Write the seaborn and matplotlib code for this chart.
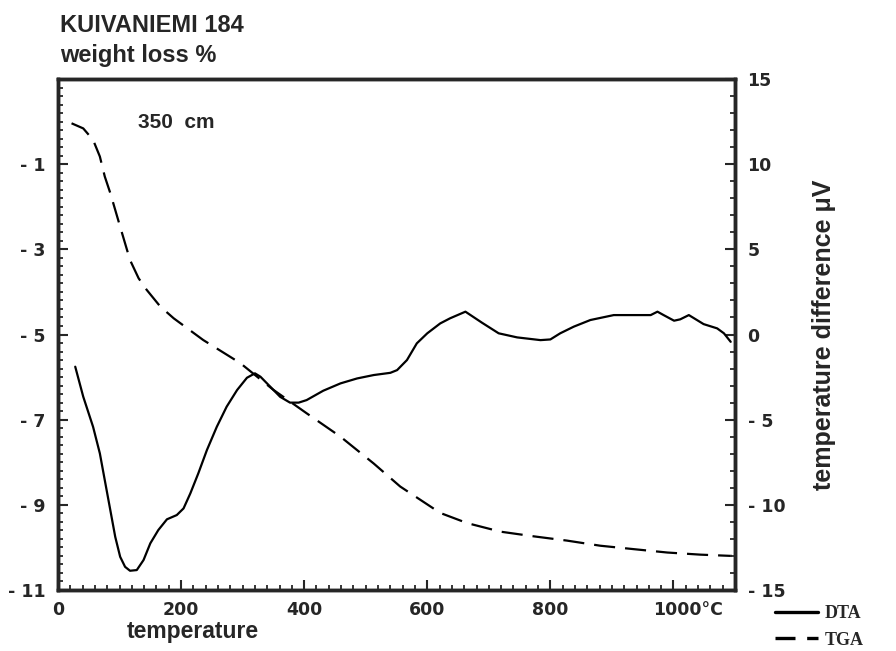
import numpy as np
import pandas as pd
import matplotlib
matplotlib.use("Agg")
import matplotlib.pyplot as plt
import matplotlib.ticker as mticker
from matplotlib.lines import Line2D
from matplotlib.transforms import ScaledTranslation
import seaborn as sns

# TGA curve, weight loss % (left axis)
tga_temp = [22, 41, 57, 68, 76, 85, 101, 117, 131, 144, 166, 188, 236, 296,
            350, 404, 459, 513, 556, 621, 665, 719, 773, 827, 881, 935, 990,
            1044, 1095]
tga_loss = [-0.04, -0.16, -0.43, -0.82, -1.29, -1.68, -2.47, -3.25, -3.68,
            -3.95, -4.34, -4.62, -5.13, -5.67, -6.30, -6.85, -7.40, -8.03,
            -8.57, -9.19, -9.43, -9.63, -9.74, -9.84, -9.96, -10.04, -10.12,
            -10.17, -10.20]

# DTA curve, temperature difference uV (right axis)
dta_temp = [28, 41, 57, 68, 76, 85, 93, 101, 109, 117, 128, 139, 150, 163,
            177, 193, 204, 215, 228, 242, 258, 274, 291, 307, 320, 329, 345,
            361, 377, 391, 404, 431, 459, 486, 513, 540, 551, 567, 583, 600,
            621, 637, 662, 689, 716, 746, 784, 800, 816, 838, 865, 903, 963,
            974, 984, 1001, 1011, 1025, 1049, 1071, 1082, 1093]
dta_diff = [-1.89, -3.65, -5.42, -6.98, -8.55, -10.31, -11.88, -13.05, -13.64,
            -13.87, -13.83, -13.24, -12.26, -11.48, -10.85, -10.60, -10.21,
            -9.33, -8.15, -6.78, -5.42, -4.24, -3.26, -2.54, -2.28, -2.48,
            -3.07, -3.66, -4.00, -4.00, -3.85, -3.30, -2.87, -2.58, -2.38,
            -2.25, -2.09, -1.50, -0.52, 0.07, 0.65, 0.95, 1.34, 0.69, 0.07,
            -0.17, -0.33, -0.29, 0.07, 0.46, 0.85, 1.14, 1.14, 1.34, 1.14,
            0.81, 0.89, 1.14, 0.61, 0.36, 0.07, -0.43]

x_ticks = [0, 200, 400, 600, 800, 1000]
x_labels = ["0", "200", "400", "600", "800", "1000°C"]
left_ticks = [-11, -9, -7, -5, -3, -1]
right_ticks = [-15, -10, -5, 0, 5, 10, 15]

tga = pd.DataFrame({"temperature": tga_temp, "loss": tga_loss})
dta = pd.DataFrame({"temperature": dta_temp, "diff": dta_diff})

sns.set_style("ticks")
plt.rcParams["font.family"] = ["Liberation Sans", "DejaVu Sans"]
plt.rcParams["axes.unicode_minus"] = False

fig = plt.figure(figsize=(8.96, 6.51), dpi=100)
ax = fig.add_axes([58 / 896, 1 - 590 / 651, 677 / 896, 511 / 651])
ax2 = ax.twinx()

sns.lineplot(data=tga, x="temperature", y="loss", ax=ax, color="black",
             lw=1.6, linestyle=(0, (9.5, 4.5)), legend=False)
sns.lineplot(data=dta, x="temperature", y="diff", ax=ax2, color="black",
             lw=1.6, legend=False)

ax.set_xlim(0, 1100)
ax.set_ylim(-11, 1)
ax2.set_ylim(-15, 15)

for s in list(ax.spines.values()) + list(ax2.spines.values()):
    s.set_linewidth(2.5)


def spaced(v):
    # plotter style labels: "- 15"
    return f"- {abs(v)}" if v < 0 else str(v)


tick_font = {"family": "DejaVu Sans", "weight": "bold", "size": 12.5}

# x axis
ax.xaxis.set_major_locator(mticker.FixedLocator(x_ticks))
ax.set_xticklabels(x_labels, fontdict=tick_font)
ax.xaxis.set_minor_locator(mticker.MultipleLocator(20))
ax.tick_params(axis="x", which="major", direction="in", length=7, width=1.5, pad=8)
ax.tick_params(axis="x", which="minor", direction="in", length=3.5, width=1.3)
lab = ax.get_xticklabels()[-1]
lab.set_transform(lab.get_transform() + ScaledTranslation(0.15, 0, fig.dpi_scale_trans))

# left axis
ax.yaxis.set_major_locator(mticker.FixedLocator(left_ticks))
ax.set_yticklabels([spaced(v) for v in left_ticks], fontdict=tick_font)
ax.yaxis.set_minor_locator(mticker.MultipleLocator(0.2))
ax.tick_params(axis="y", which="major", direction="in", length=7, width=1.5, pad=9)
ax.tick_params(axis="y", which="minor", direction="in", length=3.5, width=1.3)

# right axis
ax2.yaxis.set_major_locator(mticker.FixedLocator(right_ticks))
ax2.set_yticklabels([spaced(v) for v in right_ticks], fontdict=tick_font)
ax2.yaxis.set_minor_locator(mticker.MultipleLocator(1))
ax2.tick_params(axis="y", which="major", direction="in", length=7, width=1.5, pad=9)
ax2.tick_params(axis="y", which="minor", direction="in", length=3.5, width=1.3)

ax.set_xlabel("temperature", fontsize=16.5, fontweight="bold")
ax.xaxis.set_label_coords((193 - 58) / 677, -0.058)
ax.set_ylabel("")
ax2.set_ylabel("temperature difference μV", fontsize=18, fontweight="bold")
ax2.yaxis.set_label_coords((812 - 58) / 677, 0.5)

fig.text(60 / 896, 1 - 31.7 / 651, "KUIVANIEMI 184", fontsize=17,
         fontweight="bold", va="baseline")
fig.text(60 / 896, 1 - 61.7 / 651, "weight loss %", fontsize=17,
         fontweight="bold", va="baseline")
ax.text(0.118, 0.914, "350  cm", transform=ax.transAxes, fontsize=15,
        fontweight="bold", va="center")

handles = [Line2D([], [], color="black", lw=2.4),
           Line2D([], [], color="black", lw=2.4, linestyle=(0, (6, 3.5)))]
fig.legend(handles, ["DTA", "TGA"], loc="center left",
           bbox_to_anchor=(775 / 896, 1 - 627 / 651), frameon=False,
           borderpad=0, borderaxespad=0, handlelength=2.4, handletextpad=0.35,
           labelspacing=0.5,
           prop={"family": "Liberation Serif", "weight": "bold", "size": 13})

fig.savefig("out.png", dpi=100)
